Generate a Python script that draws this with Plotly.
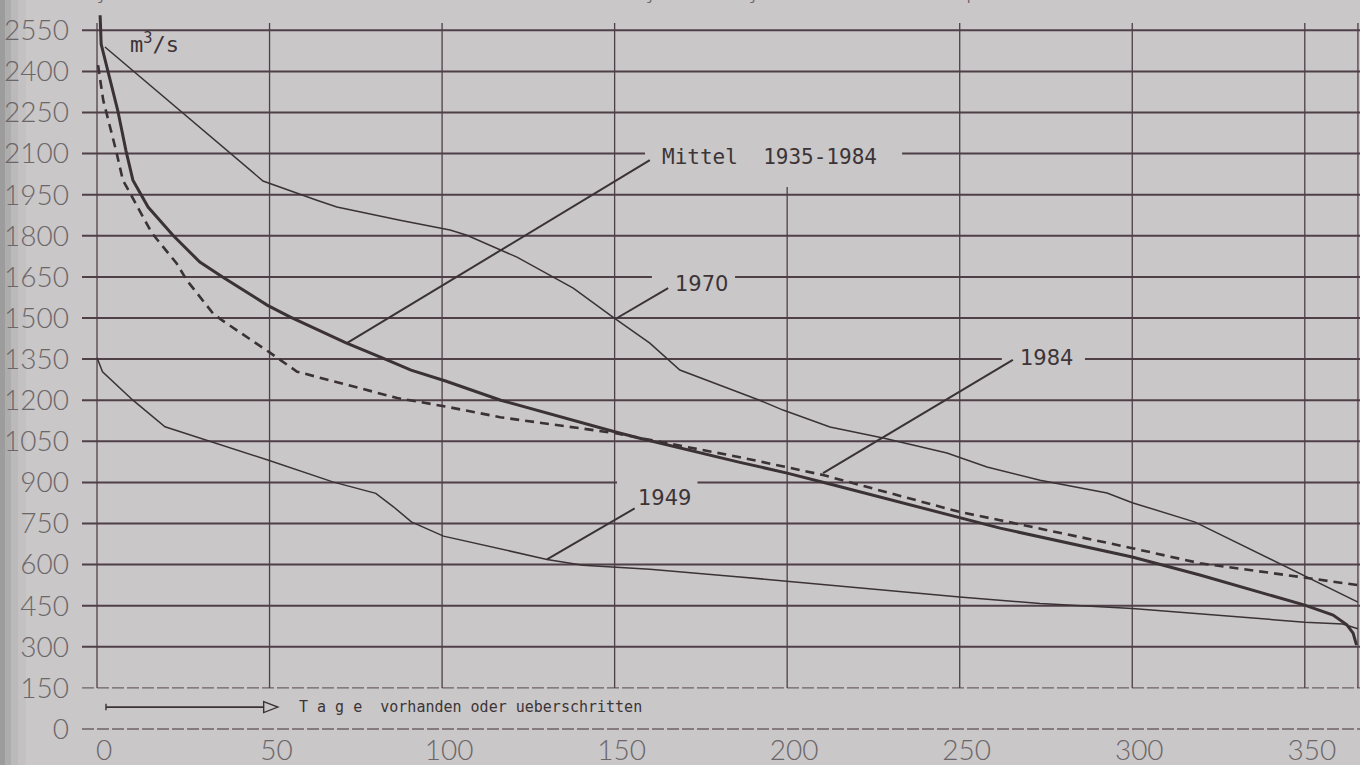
import plotly.graph_objects as go

# ---------------- data ----------------
mittel_days = [0.9, 1.2, 6, 8.4, 10.4, 14.8, 22, 29.8, 36.5, 49.3, 55.9, 72, 83, 91, 101, 117,
               150, 157, 186, 200, 211.5, 250, 261.7, 300, 319.6, 350, 358.2, 362.2, 364, 365]
mittel_q = [2605, 2500, 2258, 2110, 2003, 1905, 1802, 1704, 1649, 1547, 1504, 1410, 1353, 1310,
            1270, 1200, 1085, 1062, 974, 934, 897, 770, 733, 628, 562, 452, 416, 380, 350, 306]

y1984_days = [0.3, 1.8, 5.5, 7.5, 9.6, 15.9, 23.1, 26, 33.6, 36.2, 49.7, 58, 87, 101.4, 116.8,
              150, 186.3, 200, 210.4, 250, 261.7, 300, 319.6, 348.6, 365.4]
y1984_q = [2423, 2295, 2112, 2003, 1955, 1810, 1699, 1638, 1517, 1492, 1377, 1304, 1208, 1176,
           1138, 1080, 992, 956, 927, 792, 762, 660, 605, 555, 525]

y1970_days = [2.3, 48.1, 63.7, 69.5, 87.8, 102.3, 107.2, 121.7, 138, 149.5, 160.2, 168.9, 192,
              198.8, 212.4, 227.8, 246.3, 257.9, 273.3, 292.7, 300, 318.2, 365.4]
y1970_q = [2489, 2000, 1930, 1905, 1857, 1821, 1802, 1722, 1609, 1503, 1408, 1310, 1200, 1164,
           1102, 1062, 1007, 956, 908, 861, 826, 755, 463]

y1949_days = [0, 1.6, 10.4, 19.7, 49.7, 68.3, 80.8, 85.9, 91.1, 100.4, 130.4, 140.8, 160.2,
              186.3, 250, 261.7, 273.3, 300, 350, 361, 365.4]
y1949_q = [1355, 1304, 1200, 1103, 981, 902, 860, 811, 756, 704, 619, 598, 583, 555, 482, 471,
           458, 440, 390, 383, 366]

x_ticks = [0, 50, 100, 150, 200, 250, 300, 350]
y_ticks = list(range(0, 2551, 150))
months = ["janvier", "février", "mars", "avril", "mai", "juin", "juillet", "août",
          "septembre", "octobre", "novembre", "décembre"]

# ---------------- styling ----------------
BG = "#c9c7c8"
GRID = "#4f3f47"
CURVE = "#3b3236"
TXT = "#3c3437"
TICKTXT = "#6c6669"
X0, X1 = -4.35, 366.0
Y0, Y1 = -7.3, 2660.6
X_FRAME = 365.4

fig = go.Figure()

fig.add_trace(go.Scatter(x=y1949_days, y=y1949_q, mode="lines",
                         line=dict(color=CURVE, width=1.5), name="1949"))
fig.add_trace(go.Scatter(x=y1970_days, y=y1970_q, mode="lines",
                         line=dict(color=CURVE, width=1.5), name="1970"))
fig.add_trace(go.Scatter(x=y1984_days, y=y1984_q, mode="lines",
                         line=dict(color=CURVE, width=2.6, dash="9px,6px"), name="1984"))
fig.add_trace(go.Scatter(x=mittel_days, y=mittel_q, mode="lines",
                         line=dict(color=CURVE, width=3), name="Mittel 1935-1984"))

shapes = []

# left scan shadow
for w, op in [(5, 0.20), (11, 0.12), (18, 0.08), (26, 0.05)]:
    shapes.append(dict(type="rect", xref="paper", yref="paper",
                       x0=-82 / 1278, x1=(w - 82) / 1278, y0=-0.1, y1=1.1,
                       fillcolor="#5e5a5c", opacity=op, line=dict(width=0), layer="below"))

# horizontal grid lines with gaps where labels sit
gaps = {2100: [(158.8, 233.3)], 1650: [(160.8, 184.9)], 1350: [(262.2, 286.3)],
        900: [(150.7, 174.0)]}
for q in y_ticks:
    segs = []
    start = X0
    for a, b in gaps.get(q, []):
        segs.append((start, a))
        start = b
    segs.append((start, X1))
    light = q <= 150
    for a, b in segs:
        shapes.append(dict(type="line", xref="x", yref="y", x0=a, x1=b, y0=q, y1=q,
                           line=dict(color="#6e6267" if light else GRID,
                                     width=1.4 if light else 2,
                                     dash="12px,3px" if light else "solid"),
                           layer="below"))

# vertical grid lines
for d in x_ticks + [X_FRAME]:
    top = 1978 if d == 200 else 2577
    shapes.append(dict(type="line", xref="x", yref="y", x0=d, x1=d, y0=150, y1=top,
                       line=dict(color=GRID, width=1.3), layer="below"))

# leader lines
leaders = [((72.4, 1408), (160.2, 2076)),
           ((150.7, 1500), (165.5, 1609)),
           ((210.4, 934), (265.4, 1347)),
           ((130.4, 619), (155.8, 805))]
for (xa, ya), (xb, yb) in leaders:
    shapes.append(dict(type="line", xref="x", yref="y", x0=xa, y0=ya, x1=xb, y1=yb,
                       line=dict(color=CURVE, width=2)))

# bottom arrow
shapes.append(dict(type="line", xref="x", yref="y", x0=2.6, x1=48.3, y0=80, y1=80,
                   line=dict(color=CURVE, width=1.6)))
shapes.append(dict(type="line", xref="x", yref="y", x0=2.6, x1=2.6, y0=68, y1=92,
                   line=dict(color=CURVE, width=1.4)))
shapes.append(dict(type="path", xref="x", yref="y",
                   path="M 48.3 100 L 52.4 80 L 48.3 60 Z",
                   line=dict(color=CURVE, width=1.4), fillcolor="rgba(0,0,0,0)"))

fig.update_layout(shapes=shapes)

ann_font = dict(family="DejaVu Sans Mono", size=21, color=TXT)
lbl_font = dict(family="DejaVu Sans", size=21, color=TXT)
annotations = [
    dict(x=163.1, y=2087, text="Mittel  1935-1984", xanchor="left", yanchor="middle",
         showarrow=False, font=ann_font),
    dict(x=166.9, y=1624, text="1970", xanchor="left", yanchor="middle",
         showarrow=False, font=lbl_font),
    dict(x=266.9, y=1354, text="1984", xanchor="left", yanchor="middle",
         showarrow=False, font=lbl_font),
    dict(x=156.2, y=843, text="1949", xanchor="left", yanchor="middle",
         showarrow=False, font=lbl_font),
    dict(x=9.0, y=2505, text="m<sup>3</sup>/s", xanchor="left", yanchor="middle",
         showarrow=False, font=dict(family="DejaVu Sans Mono", size=22, color=TXT)),
    dict(x=58, y=80, text="T a g e  vorhanden oder ueberschritten", xanchor="left",
         yanchor="middle", showarrow=False,
         font=dict(family="DejaVu Sans Mono", size=15, color=TXT)),
]
month_px = [126, 242, 347, 468, 572, 663, 778, 873, 988, 1092, 1207, 1299]
for m, px in zip(months, month_px):
    annotations.append(dict(xref="paper", yref="paper", x=(px - 82) / 1278, y=1 - 5 / 731,
                            text=m, xanchor="center", yanchor="bottom", showarrow=False,
                            font=dict(family="DejaVu Sans Mono", size=14, color="#6a6467")))
fig.update_layout(annotations=annotations)

tick_font = dict(family="Lato, Roboto, sans-serif", size=28, color=TICKTXT, weight=300)
fig.update_xaxes(range=[X0, X1], tickvals=x_ticks, ticktext=[str(v) for v in x_ticks],
                 showgrid=False, zeroline=False, showline=False, ticks="", automargin=False,
                 tickfont=tick_font, ticklabelstandoff=0, ticklabelshift=7, fixedrange=True)
fig.update_yaxes(range=[Y0, Y1], tickvals=y_ticks, ticktext=[str(v) for v in y_ticks],
                 showgrid=False, zeroline=False, showline=False, ticks="", automargin=False,
                 tickfont=tick_font, ticklabelstandoff=12, fixedrange=True)

fig.update_layout(width=1360, height=765, margin=dict(l=82, r=0, t=0, b=34, autoexpand=False),
                  paper_bgcolor=BG, plot_bgcolor=BG, showlegend=False)

fig.write_html("out.html", config={"displayModeBar": False},
               post_script="document.body.style.margin='0';"
                           "document.body.style.overflow='hidden';"
                           "document.body.style.background='" + BG + "';")
